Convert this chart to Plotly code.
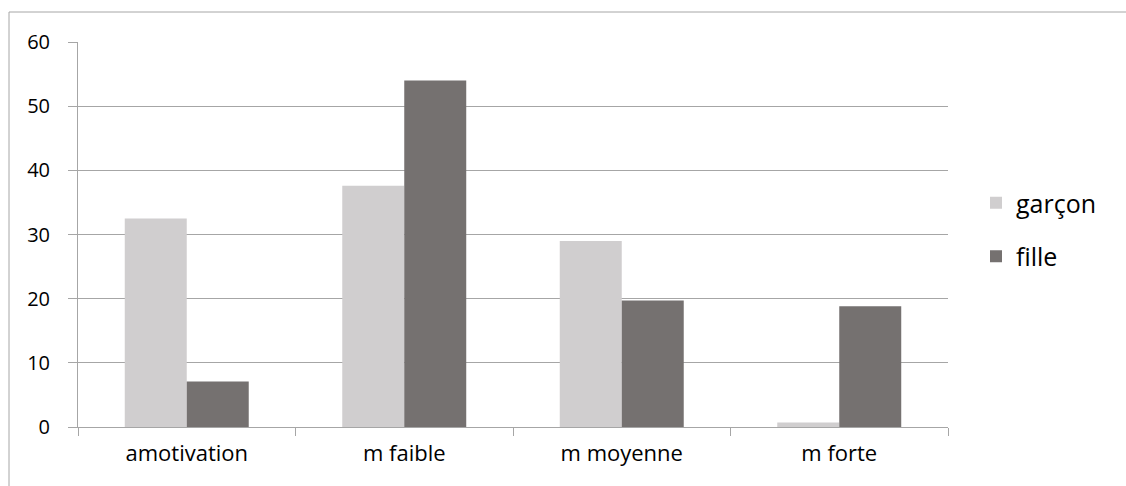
import plotly.graph_objects as go

categories = ["amotivation", "m faible", "m moyenne", "m forte"]
garcon = [32.5, 37.6, 29.0, 0.7]
fille = [7.1, 54.0, 19.7, 18.8]
series_names = ["garçon", "fille"]
colors = ["#d0cecf", "#757170"]

W, H = 1126, 486
L, R, T, B = 78, 178, 42, 59
pw, ph = W - L - R, H - T - B

fig = go.Figure()
for i, (name, vals, col) in enumerate(zip(series_names, [garcon, fille], colors)):
    fig.add_trace(go.Bar(x=categories, y=vals, name=name, legendgroup=f"g{i}",
                         marker=dict(color=col, line=dict(width=0))))

def px2x(px):
    return (px - L) / pw

def px2y(py):
    return 1 - (py - T) / ph

fig.update_layout(
    width=W, height=H,
    margin=dict(l=L, r=R, t=T, b=B),
    paper_bgcolor="white", plot_bgcolor="white",
    barmode="group", bargap=0.43, bargroupgap=0,
    font=dict(family="Open Sans, Lato, sans-serif", size=20, color="#000000"),
    showlegend=True,
    legend=dict(x=px2x(976), y=px2y(180), xanchor="left", yanchor="top",
                font=dict(size=25), itemsizing="constant", tracegroupgap=18,
                bgcolor="rgba(0,0,0,0)"),
    xaxis=dict(showline=True, linecolor="#a6a6a6", linewidth=1,
               ticks="outside", tickson="boundaries", ticklen=8, tickcolor="#a6a6a6",
               showgrid=False, tickfont=dict(size=22), ticklabelstandoff=7),
    yaxis=dict(range=[0, 60], dtick=10, showline=True, linecolor="#a6a6a6", linewidth=1,
               ticks="outside", ticklen=9, tickcolor="#a6a6a6",
               showgrid=True, gridcolor="#a6a6a6", gridwidth=1,
               zeroline=False, tickfont=dict(size=20), ticklabelstandoff=14),
    shapes=[
        dict(type="line", xref="paper", yref="paper", x0=px2x(9), x1=px2x(1130), y0=px2y(12), y1=px2y(12),
             line=dict(color="#a6a6a6", width=1)),
        dict(type="line", xref="paper", yref="paper", x0=px2x(9), x1=px2x(9), y0=px2y(12), y1=px2y(490),
             line=dict(color="#a6a6a6", width=1)),
    ],
)

fig.write_html("out.html", config={"displayModeBar": False},
               post_script="document.body.style.margin='0';")
